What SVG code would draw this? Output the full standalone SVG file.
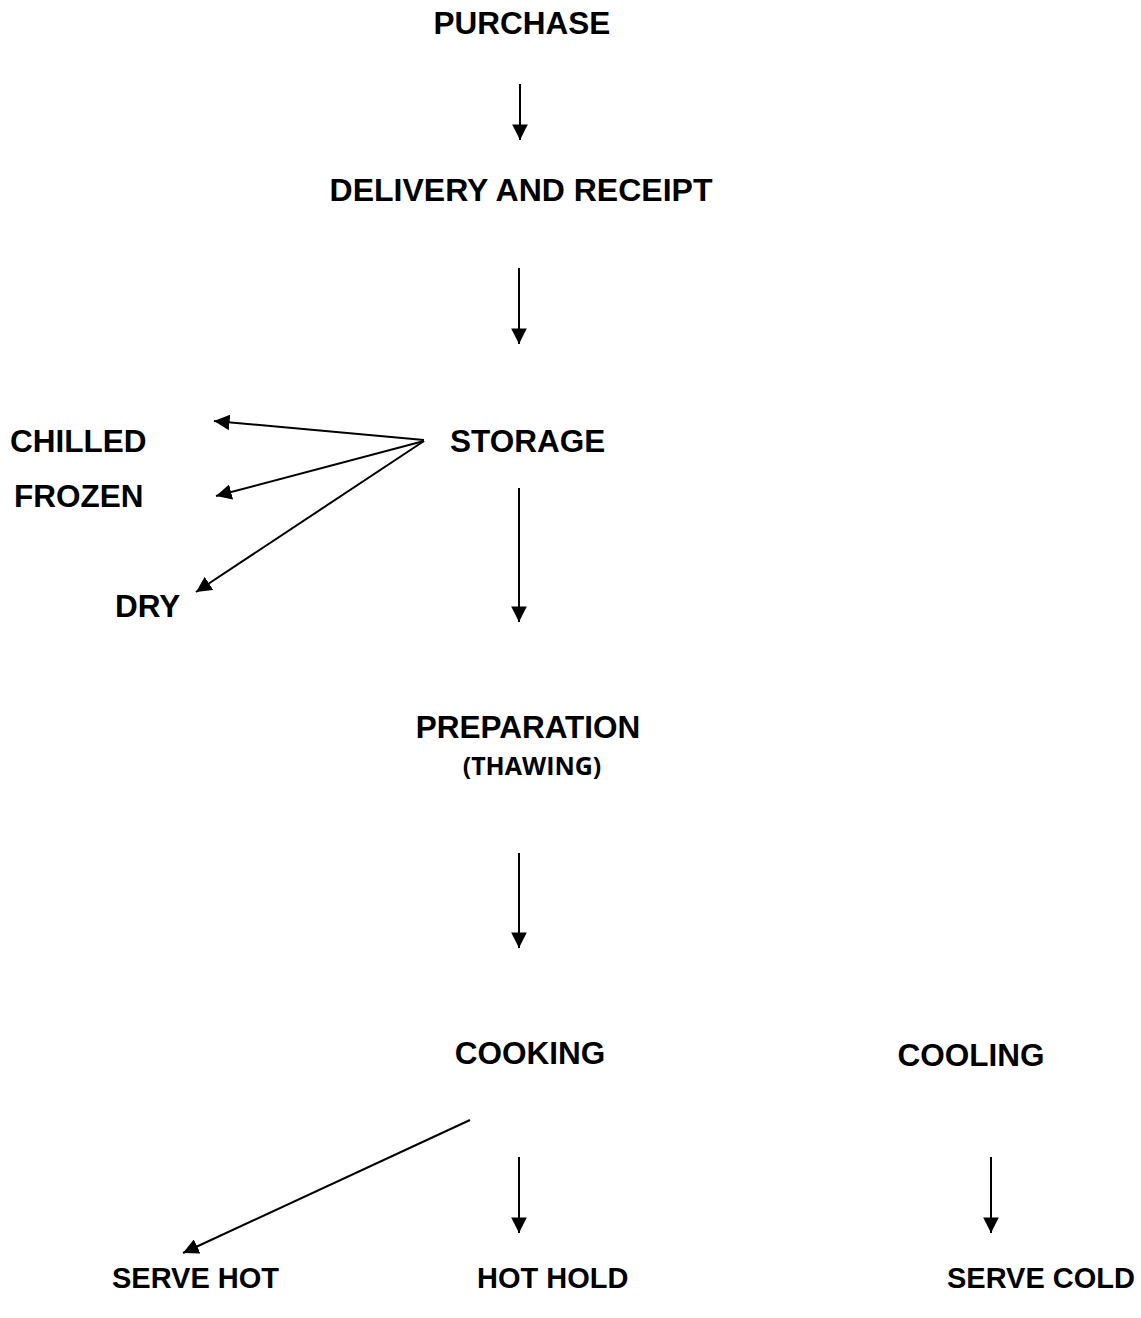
<svg xmlns="http://www.w3.org/2000/svg" width="1141" height="1318" viewBox="0 0 1141 1318">
<style>
.t{font-family:"Liberation Sans",Arial,sans-serif;font-weight:bold;font-size:31.5px;fill:#000}
.b{font-family:"Liberation Sans",Arial,sans-serif;font-weight:bold;font-size:29px;fill:#000}
.s{font-family:"Open Sans","Liberation Sans",sans-serif;font-weight:bold;font-size:25px;fill:#000}
.c{stroke:#000;stroke-width:2;fill:none;marker-end:url(#ah)}
</style>
<defs>
<marker id="ah" viewBox="0 0 10 10" refX="10" refY="5" markerWidth="7.8" markerHeight="7.8" markerUnits="strokeWidth" orient="auto">
<path d="M0,0 L10,5 L0,10 Z" fill="#000"/>
</marker>
</defs>
<rect width="1141" height="1318" fill="#fff"/>
<g id="purchase"><text class="t" x="522" y="34" text-anchor="middle">PURCHASE</text></g>
<g id="delivery"><text class="t" x="521" y="201" text-anchor="middle" style="font-size:32px">DELIVERY AND RECEIPT</text></g>
<g id="chilled"><text class="t" x="10" y="452">CHILLED</text></g>
<g id="storage"><text class="t" x="450" y="452">STORAGE</text></g>
<g id="frozen"><text class="t" x="14" y="507">FROZEN</text></g>
<g id="dry"><text class="t" x="115" y="617">DRY</text></g>
<g id="preparation"><text class="t" x="528" y="738" text-anchor="middle">PREPARATION</text><text class="s" x="532" y="775" text-anchor="middle">(THAWING)</text></g>
<g id="cooking"><text class="t" x="530" y="1064" text-anchor="middle">COOKING</text></g>
<g id="cooling"><text class="t" x="971" y="1066" text-anchor="middle">COOLING</text></g>
<g id="serve-hot"><text class="b" x="112" y="1288">SERVE HOT</text></g>
<g id="hot-hold"><text class="b" x="477" y="1288">HOT HOLD</text></g>
<g id="serve-cold"><text class="b" x="947" y="1288">SERVE COLD</text></g>
<g id="connectors">
<line class="c" x1="520" y1="84" x2="520" y2="140"/>
<line class="c" x1="519" y1="268" x2="519" y2="344"/>
<line class="c" x1="519" y1="488" x2="519" y2="622"/>
<line class="c" x1="519" y1="853" x2="519" y2="948"/>
<line class="c" x1="519" y1="1157" x2="519" y2="1233"/>
<line class="c" x1="991" y1="1157" x2="991" y2="1233"/>
<line class="c" x1="424" y1="440" x2="214" y2="421"/>
<line class="c" x1="424" y1="441" x2="216" y2="496"/>
<line class="c" x1="424" y1="441" x2="196" y2="592"/>
<line class="c" x1="470" y1="1120" x2="183" y2="1253"/>
</g>
</svg>
